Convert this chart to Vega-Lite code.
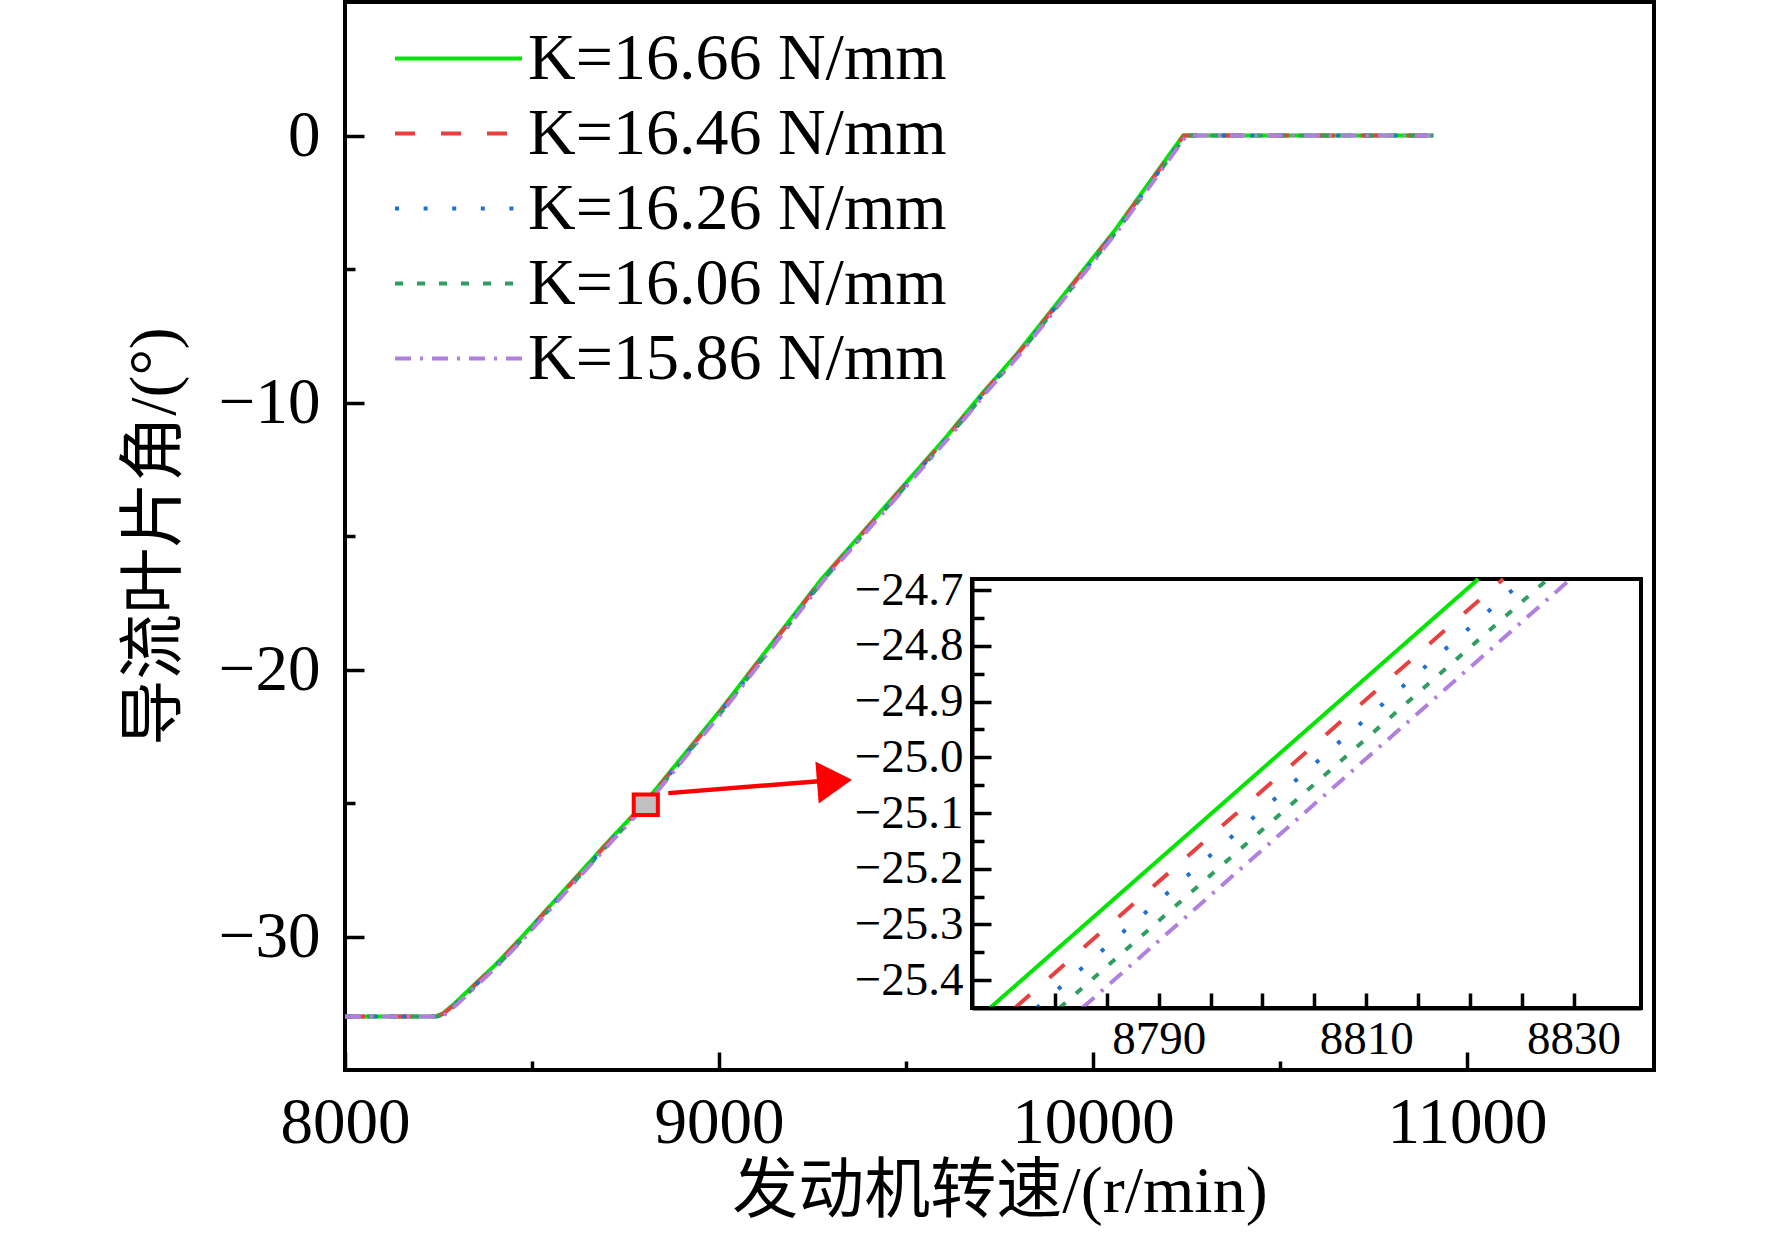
{
  "$schema": "https://vega.github.io/schema/vega-lite/v6.json",
  "autosize": "none",
  "padding": {"left": 345, "top": 2, "right": 118, "bottom": 174},
  "width": 1309,
  "height": 1068,
  "background": "white",
  "config": {
    "view": {"stroke": "black", "strokeWidth": 4},
    "font": "Liberation Serif, Noto Sans CJK SC",
    "axis": {"labelFont": "Liberation Serif, Noto Sans CJK SC", "titleFont": "Liberation Serif, Noto Sans CJK SC", "labelColor": "black", "titleColor": "black", "tickColor": "black", "domainColor": "black", "grid": false, "titleFontWeight": "normal"}
  },
  "datasets": {
    "main": [
      {"series": "K=16.66 N/mm", "x": 8000, "y": -33},
      {"series": "K=16.66 N/mm", "x": 8240, "y": -33},
      {"series": "K=16.66 N/mm", "x": 8260, "y": -32.9},
      {"series": "K=16.66 N/mm", "x": 8290, "y": -32.55},
      {"series": "K=16.66 N/mm", "x": 8349, "y": -31.76},
      {"series": "K=16.66 N/mm", "x": 8400, "y": -31.09},
      {"series": "K=16.66 N/mm", "x": 8474, "y": -30.0},
      {"series": "K=16.66 N/mm", "x": 8708, "y": -26.38},
      {"series": "K=16.66 N/mm", "x": 8801, "y": -25.0},
      {"series": "K=16.66 N/mm", "x": 9004, "y": -21.52},
      {"series": "K=16.66 N/mm", "x": 9272, "y": -16.65},
      {"series": "K=16.66 N/mm", "x": 9604, "y": -11.35},
      {"series": "K=16.66 N/mm", "x": 9703, "y": -9.67},
      {"series": "K=16.66 N/mm", "x": 9797, "y": -8.17},
      {"series": "K=16.66 N/mm", "x": 10058, "y": -3.56},
      {"series": "K=16.66 N/mm", "x": 10241, "y": 0},
      {"series": "K=16.66 N/mm", "x": 10910, "y": 0},
      {"series": "K=16.46 N/mm", "x": 8000, "y": -33},
      {"series": "K=16.46 N/mm", "x": 8242.4, "y": -33},
      {"series": "K=16.46 N/mm", "x": 8262.4, "y": -32.9},
      {"series": "K=16.46 N/mm", "x": 8292.4, "y": -32.55},
      {"series": "K=16.46 N/mm", "x": 8351.4, "y": -31.76},
      {"series": "K=16.46 N/mm", "x": 8402.4, "y": -31.09},
      {"series": "K=16.46 N/mm", "x": 8476.4, "y": -30.0},
      {"series": "K=16.46 N/mm", "x": 8710.4, "y": -26.38},
      {"series": "K=16.46 N/mm", "x": 8803.4, "y": -25.0},
      {"series": "K=16.46 N/mm", "x": 9006.4, "y": -21.52},
      {"series": "K=16.46 N/mm", "x": 9274.4, "y": -16.65},
      {"series": "K=16.46 N/mm", "x": 9606.4, "y": -11.35},
      {"series": "K=16.46 N/mm", "x": 9705.4, "y": -9.67},
      {"series": "K=16.46 N/mm", "x": 9799.4, "y": -8.17},
      {"series": "K=16.46 N/mm", "x": 10060.4, "y": -3.56},
      {"series": "K=16.46 N/mm", "x": 10243.4, "y": 0},
      {"series": "K=16.46 N/mm", "x": 10910, "y": 0},
      {"series": "K=16.26 N/mm", "x": 8000, "y": -33},
      {"series": "K=16.26 N/mm", "x": 8244.5, "y": -33},
      {"series": "K=16.26 N/mm", "x": 8264.5, "y": -32.9},
      {"series": "K=16.26 N/mm", "x": 8294.5, "y": -32.55},
      {"series": "K=16.26 N/mm", "x": 8353.5, "y": -31.76},
      {"series": "K=16.26 N/mm", "x": 8404.5, "y": -31.09},
      {"series": "K=16.26 N/mm", "x": 8478.5, "y": -30.0},
      {"series": "K=16.26 N/mm", "x": 8712.5, "y": -26.38},
      {"series": "K=16.26 N/mm", "x": 8805.5, "y": -25.0},
      {"series": "K=16.26 N/mm", "x": 9008.5, "y": -21.52},
      {"series": "K=16.26 N/mm", "x": 9276.5, "y": -16.65},
      {"series": "K=16.26 N/mm", "x": 9608.5, "y": -11.35},
      {"series": "K=16.26 N/mm", "x": 9707.5, "y": -9.67},
      {"series": "K=16.26 N/mm", "x": 9801.5, "y": -8.17},
      {"series": "K=16.26 N/mm", "x": 10062.5, "y": -3.56},
      {"series": "K=16.26 N/mm", "x": 10245.5, "y": 0},
      {"series": "K=16.26 N/mm", "x": 10910, "y": 0},
      {"series": "K=16.06 N/mm", "x": 8000, "y": -33},
      {"series": "K=16.06 N/mm", "x": 8246.7, "y": -33},
      {"series": "K=16.06 N/mm", "x": 8266.7, "y": -32.9},
      {"series": "K=16.06 N/mm", "x": 8296.7, "y": -32.55},
      {"series": "K=16.06 N/mm", "x": 8355.7, "y": -31.76},
      {"series": "K=16.06 N/mm", "x": 8406.7, "y": -31.09},
      {"series": "K=16.06 N/mm", "x": 8480.7, "y": -30.0},
      {"series": "K=16.06 N/mm", "x": 8714.7, "y": -26.38},
      {"series": "K=16.06 N/mm", "x": 8807.7, "y": -25.0},
      {"series": "K=16.06 N/mm", "x": 9010.7, "y": -21.52},
      {"series": "K=16.06 N/mm", "x": 9278.7, "y": -16.65},
      {"series": "K=16.06 N/mm", "x": 9610.7, "y": -11.35},
      {"series": "K=16.06 N/mm", "x": 9709.7, "y": -9.67},
      {"series": "K=16.06 N/mm", "x": 9803.7, "y": -8.17},
      {"series": "K=16.06 N/mm", "x": 10064.7, "y": -3.56},
      {"series": "K=16.06 N/mm", "x": 10247.7, "y": 0},
      {"series": "K=16.06 N/mm", "x": 10910, "y": 0},
      {"series": "K=15.86 N/mm", "x": 8000, "y": -33},
      {"series": "K=15.86 N/mm", "x": 8248.9, "y": -33},
      {"series": "K=15.86 N/mm", "x": 8268.9, "y": -32.9},
      {"series": "K=15.86 N/mm", "x": 8298.9, "y": -32.55},
      {"series": "K=15.86 N/mm", "x": 8357.9, "y": -31.76},
      {"series": "K=15.86 N/mm", "x": 8408.9, "y": -31.09},
      {"series": "K=15.86 N/mm", "x": 8482.9, "y": -30.0},
      {"series": "K=15.86 N/mm", "x": 8716.9, "y": -26.38},
      {"series": "K=15.86 N/mm", "x": 8809.9, "y": -25.0},
      {"series": "K=15.86 N/mm", "x": 9012.9, "y": -21.52},
      {"series": "K=15.86 N/mm", "x": 9280.9, "y": -16.65},
      {"series": "K=15.86 N/mm", "x": 9612.9, "y": -11.35},
      {"series": "K=15.86 N/mm", "x": 9711.9, "y": -9.67},
      {"series": "K=15.86 N/mm", "x": 9805.9, "y": -8.17},
      {"series": "K=15.86 N/mm", "x": 10066.9, "y": -3.56},
      {"series": "K=15.86 N/mm", "x": 10249.9, "y": 0},
      {"series": "K=15.86 N/mm", "x": 10910, "y": 0}
    ],
    "inset": [
      {"series": "K=16.66 N/mm", "x": 8773.73, "y": -25.45},
      {"series": "K=16.66 N/mm", "x": 8820.82, "y": -24.68},
      {"series": "K=16.46 N/mm", "x": 8776.13, "y": -25.45},
      {"series": "K=16.46 N/mm", "x": 8823.22, "y": -24.68},
      {"series": "K=16.26 N/mm", "x": 8778.23, "y": -25.45},
      {"series": "K=16.26 N/mm", "x": 8825.32, "y": -24.68},
      {"series": "K=16.06 N/mm", "x": 8780.43, "y": -25.45},
      {"series": "K=16.06 N/mm", "x": 8827.52, "y": -24.68},
      {"series": "K=15.86 N/mm", "x": 8782.63, "y": -25.45},
      {"series": "K=15.86 N/mm", "x": 8829.72, "y": -24.68}
    ],
    "zoombox": [{"x1": 8772, "x2": 8836.5, "y1": -25.45, "y2": -24.68}],
    "arrow": [{"x": 8864.4, "y": -24.63}, {"x": 9300, "y": -24.15}],
    "arrowhead": [{"x": 9308.8, "y": -24.18}]
  },
  "layer": [
    {
      "layer": [
        {
          "data": {"name": "main"},
          "mark": {"type": "line", "strokeWidth": 4, "strokeCap": "butt"},
          "encoding": {
            "x": {"field": "x", "type": "quantitative",
              "scale": {"domain": [8000, 11500], "nice": false, "zero": false},
              "axis": {"values": [8000, 8500, 9000, 9500, 10000, 10500, 11000], "format": "d",
                "labelExpr": "datum.value % 1000 === 0 ? datum.label : ''",
                "tickSize": {"condition": {"test": "datum.value % 1000 === 0", "value": -18}, "value": -9},
                "tickWidth": 3.5, "domain": false, "labelFontSize": 65, "labelPadding": 39, "labelFlush": false,
                "title": "发动机转速/(r/min)", "titleFontSize": 66, "titlePadding": 4, "zindex": 1}},
            "y": {"field": "y", "type": "quantitative",
              "scale": {"domain": [-35, 5], "nice": false, "zero": false},
              "axis": {"values": [-30, -25, -20, -15, -10, -5, 0],
                "labelExpr": "datum.value % 10 === 0 ? datum.label : ''",
                "tickSize": {"condition": {"test": "datum.value % 10 === 0", "value": -19}, "value": -10},
                "tickWidth": 3.5, "domain": false, "labelFontSize": 65, "labelPadding": 44,
                "title": "导流叶片角/(°)", "titleFontSize": 66, "titlePadding": 30, "zindex": 1}},
            "color": {"field": "series", "type": "nominal",
              "scale": {"domain": ["K=16.66 N/mm", "K=16.46 N/mm", "K=16.26 N/mm", "K=16.06 N/mm", "K=15.86 N/mm"],
                "range": ["#00e600", "#e8403f", "#1f6fd6", "#2f9e60", "#b07fe0"]},
              "legend": {"orient": "none", "legendX": 48, "legendY": 19, "title": null, "symbolType": "stroke",
                "symbolSize": 16129, "symbolStrokeWidth": 4, "clipHeight": 75, "rowPadding": 0, "padding": 0,
                "labelFont": "Liberation Serif", "labelFontSize": 66, "labelOffset": 4, "labelLimit": 0, "labelColor": "black"}},
            "strokeDash": {"field": "series", "type": "nominal",
              "scale": {"domain": ["K=16.66 N/mm", "K=16.46 N/mm", "K=16.26 N/mm", "K=16.06 N/mm", "K=15.86 N/mm"],
                "range": [[1, 0], [20, 26], [4, 24.6], [8, 14], [16, 9, 3, 9]]},
              "legend": {"orient": "none", "legendX": 48, "legendY": 19, "title": null, "symbolType": "stroke",
                "symbolSize": 16129, "symbolStrokeWidth": 4, "clipHeight": 75, "rowPadding": 0, "padding": 0,
                "labelFont": "Liberation Serif", "labelFontSize": 66, "labelOffset": 4, "labelLimit": 0, "labelColor": "black"}}
          }
        },
        {
          "data": {"name": "zoombox"},
          "mark": {"type": "rect", "fill": "#c0c0c0", "stroke": "#ff0000", "strokeWidth": 4},
          "encoding": {
            "x": {"field": "x1", "type": "quantitative"},
            "x2": {"field": "x2"},
            "y": {"field": "y1", "type": "quantitative"},
            "y2": {"field": "y2"}
          }
        },
        {
          "data": {"name": "arrow"},
          "mark": {"type": "line", "color": "#ff0000", "strokeWidth": 4.5},
          "encoding": {
            "x": {"field": "x", "type": "quantitative"},
            "y": {"field": "y", "type": "quantitative"}
          }
        },
        {
          "data": {"name": "arrowhead"},
          "mark": {"type": "point", "shape": "M-1,-1.2L1,0L-1,1.2Z", "filled": true, "color": "#ff0000", "opacity": 1, "size": 1225, "angle": -4.5},
          "encoding": {
            "x": {"field": "x", "type": "quantitative"},
            "y": {"field": "y", "type": "quantitative"}
          }
        }
      ]
    },
    {
      "layer": [
        {
          "data": {"name": "zoombox"},
          "mark": {"type": "rect", "fill": "white", "stroke": "black", "strokeWidth": 4},
          "encoding": {
            "x": {"field": "x1", "type": "quantitative",
              "scale": {"domain": [8772, 8836.5], "range": [627, 1296], "nice": false, "zero": false},
              "axis": {"orient": "top", "offset": -1006, "values": [8780, 8785, 8790, 8795, 8800, 8805, 8810, 8815, 8820, 8825, 8830],
                "format": "d", "labelExpr": "datum.value % 20 === 10 ? datum.label : ''",
                "tickSize": 15, "tickWidth": 3.5, "domain": true, "domainWidth": 4, "labelFontSize": 47, "labelPadding": -23,
                "labelBaseline": "top", "labelFlush": false, "title": null, "zindex": 2}},
            "x2": {"field": "x2"},
            "y": {"field": "y1", "type": "quantitative",
              "scale": {"domain": [-25.45, -24.68], "range": [1006, 577], "nice": false, "zero": false},
              "axis": {"orient": "right", "offset": -682,
                "values": [-25.4, -25.35, -25.3, -25.25, -25.2, -25.15, -25.1, -25.05, -25.0, -24.95, -24.9, -24.85, -24.8, -24.75, -24.7],
                "labelExpr": "abs(round(datum.value * 20)) % 2 === 0 ? format(datum.value, '.1f') : ''",
                "tickSize": {"condition": {"test": "abs(round(datum.value * 20)) % 2 === 0", "value": 19}, "value": 12},
                "tickWidth": 3.5, "domain": true, "domainWidth": 4, "labelFontSize": 47, "labelPadding": -28,
                "labelAlign": "right", "title": null, "zindex": 2}},
            "y2": {"field": "y2"}
          }
        },
        {
          "data": {"name": "inset"},
          "mark": {"type": "line", "strokeWidth": 4, "strokeCap": "butt"},
          "encoding": {
            "x": {"field": "x", "type": "quantitative"},
            "y": {"field": "y", "type": "quantitative"},
            "color": {"field": "series", "type": "nominal", "legend": null},
            "strokeDash": {"field": "series", "type": "nominal", "legend": null}
          }
        }
      ]
    }
  ],
  "resolve": {"scale": {"x": "independent", "y": "independent", "color": "shared", "strokeDash": "shared"}}
}
